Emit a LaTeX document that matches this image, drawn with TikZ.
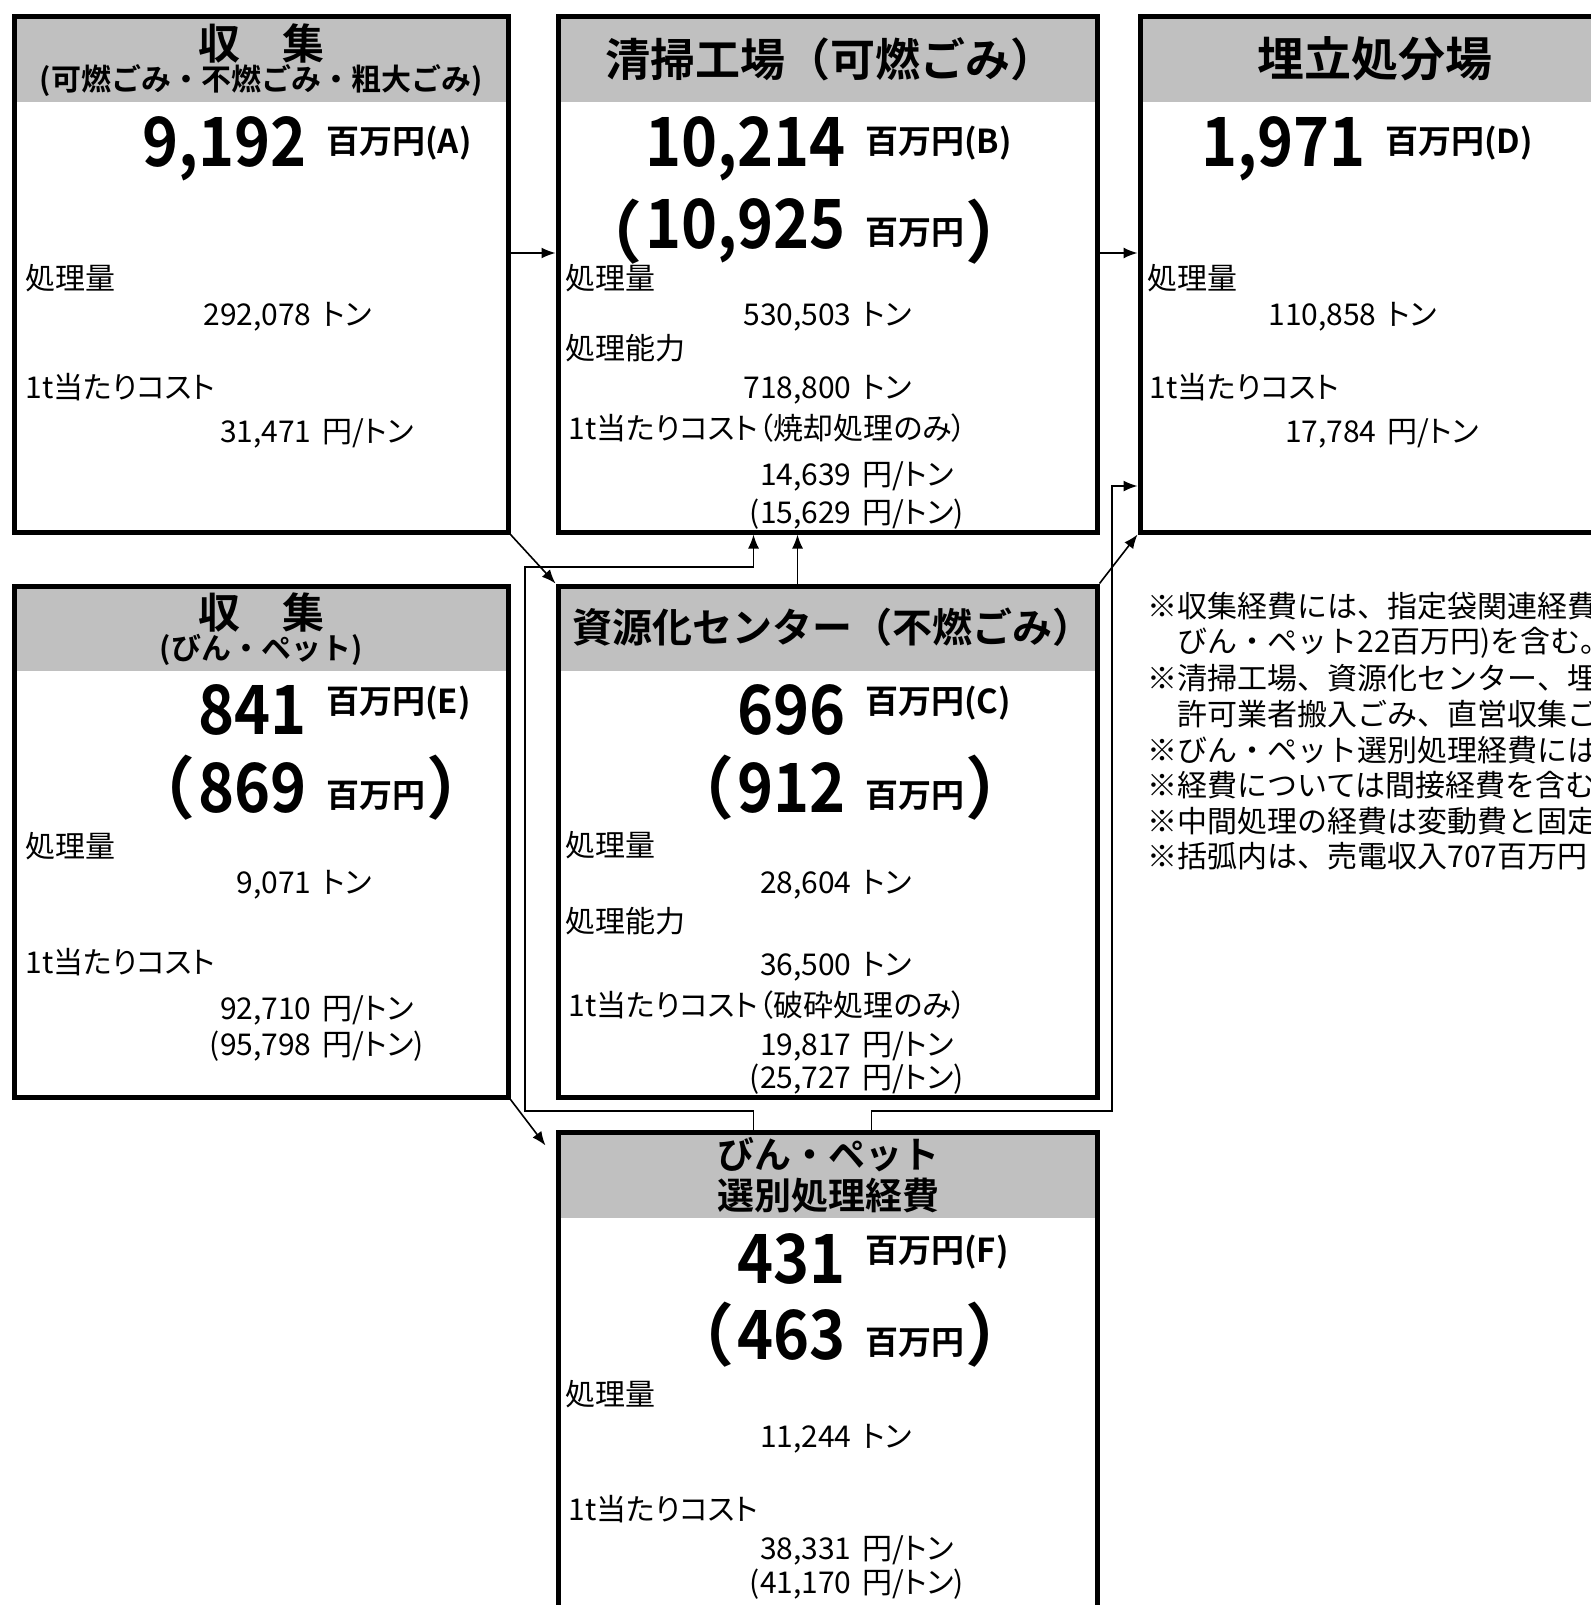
\documentclass[tikz,border=0pt]{standalone}
\usepackage{fontspec}
\setmainfont{Noto Sans CJK JP}[BoldFont={Noto Sans CJK JP Bold}]
\newfontfamily\numfont{Noto Sans CJK JP Bold}[FakeStretch=0.9]
\newfontfamily\bodyfont{Noto Sans CJK JP}[RawFeature=+palt]
\usetikzlibrary{arrows.meta,positioning,fit}
\definecolor{headgrey}{HTML}{C0C0C0}
\tikzset{
    panel/.style={draw=black,line width=2.5pt,inner sep=0pt},
    headbar/.style={fill=headgrey,inner sep=0pt},
    headtext/.style={font=\bfseries\fontsize{21}{24}\selectfont,inner sep=0pt},
    subhead/.style={font=\bfseries\fontsize{15}{18}\selectfont,inner sep=0pt},
    bignum/.style={font=\numfont\fontsize{34}{38}\selectfont,inner sep=0pt,anchor=base east},
    bigparen/.style={font=\bfseries\fontsize{34}{38}\selectfont,inner sep=0pt},
    bigunit/.style={font=\bfseries\fontsize{16.5}{19}\selectfont,inner sep=0pt},
    itemlabel/.style={font=\bodyfont\fontsize{15}{18}\selectfont,inner sep=0pt,anchor=base west},
    itemnum/.style={font=\fontsize{15}{18}\selectfont,inner sep=0pt,anchor=base east},
    itemunit/.style={font=\bodyfont\fontsize{15}{18}\selectfont,inner sep=0pt,anchor=base west},
    notetext/.style={font=\fontsize{15}{18}\selectfont,inner sep=0pt,anchor=base west},
    conn/.style={->,line width=0.8pt}
}
\begin{document}
\begin{tikzpicture}[x=0.5pt,y=-0.5pt,>={Latex[length=7pt,width=5.5pt]}]
  \useasboundingbox (0,0) rectangle (1590,1605);
  \node[headbar,fit={(14,17)(508,102)}] (hdA) {};
  \node[headbar,fit={(558,17)(1097,102)}] (hdB) {};
  \node[headbar,fit={(1140,17)(1640,102)}] (hdD) {};
  \node[headbar,fit={(14,586)(508,671)}] (hdE) {};
  \node[headbar,fit={(558,586)(1097,671)}] (hdC) {};
  \node[headbar,fit={(558,1132)(1097,1218)}] (hdF) {};
  \node[panel,fit={(14,17)(508,532)}] (boxA) {};
  \node[panel,fit={(558,17)(1097,532)}] (boxB) {};
  \node[panel,fit={(1140,17)(1640,532)}] (boxD) {};
  \node[panel,fit={(14,586)(508,1097)}] (boxE) {};
  \node[panel,fit={(558,586)(1097,1097)}] (boxC) {};
  \node[panel,fit={(558,1132)(1097,1680)}] (boxF) {};

  % collection: burnable, non-burnable, bulky
  \node[headtext] (hA1) at (261,43) {収　集};
  \node[subhead] (hA2) at (261,81) {(可燃ごみ・不燃ごみ・粗大ごみ)};
  \node[bignum] (nA) at (307,167) {9,192};
  \node[bigunit,right=9.5pt of nA,yshift=3pt] (uA) {百万円(A)};
  \node[itemlabel] (lA1) at (25,289) {処理量};
  \node[itemnum] (vA1) at (312,325) {292,078};
  \node[itemunit] (wA1) at (322,325) {トン};
  \node[itemlabel] (lA2) at (25,398) {1t当たりコスト};
  \node[itemnum] (vA2) at (312,442) {31,471};
  \node[itemunit] (wA2) at (322,442) {円/トン};

  % incineration plant
  \node[headtext,font=\bfseries\fontsize{22.5}{25}\selectfont] (hB) at (830,59) {清掃工場（可燃ごみ）};
  \node[bignum] (nB) at (846,167) {10,214};
  \node[bigunit,right=9.5pt of nB,yshift=3pt] (uB) {百万円(B)};
  \node[bignum] (nB2) at (846,249) {10,925};
  \node[bigparen,left=1pt of nB2] (pB1) {（};
  \node[bigunit,anchor=base west] (uB2) at ([xshift=9.5pt,yshift=2.5pt]nB2.base east) {百万円};
  \node[bigparen,anchor=west] (pB2) at (uB2.east |- nB2.east) {）};
  \node[itemlabel] (lB1) at (565,289) {処理量};
  \node[itemnum] (vB1) at (852,325) {530,503};
  \node[itemunit] (wB1) at (862,325) {トン};
  \node[itemlabel] (lB2) at (565,359) {処理能力};
  \node[itemnum] (vB2) at (852,398) {718,800};
  \node[itemunit] (wB2) at (862,398) {トン};
  \node[itemlabel] (lB3) at (568,439) {1t当たりコスト（焼却処理のみ）};
  \node[itemnum] (vB3) at (852,485) {14,639};
  \node[itemunit] (wB3) at (862,485) {円/トン};
  \node[itemnum] (vB4) at (852,523) {(15,629};
  \node[itemunit] (wB4) at (862,523) {円/トン)};

  % landfill
  \node[headtext,font=\bfseries\fontsize{23.5}{26}\selectfont] (hD) at (1375,59) {埋立処分場};
  \node[bignum] (nD) at (1366,167) {1,971};
  \node[bigunit,right=9.5pt of nD,yshift=3pt] (uD) {百万円(D)};
  \node[itemlabel] (lD1) at (1147,289) {処理量};
  \node[itemnum] (vD1) at (1377,325) {110,858};
  \node[itemunit] (wD1) at (1387,325) {トン};
  \node[itemlabel] (lD2) at (1149,398) {1t当たりコスト};
  \node[itemnum] (vD2) at (1377,442) {17,784};
  \node[itemunit] (wD2) at (1387,442) {円/トン};

  % collection: bottles and PET
  \node[headtext] (hE1) at (261,612) {収　集};
  \node[subhead] (hE2) at (261,650) {(びん・ペット)};
  \node[bignum] (nE) at (307,734) {841};
  \node[bigunit,right=9.5pt of nE,yshift=3pt] (uE) {百万円(E)};
  \node[bignum] (nE2) at (307,812) {869};
  \node[bigparen,left=1pt of nE2] (pE1) {（};
  \node[bigunit,anchor=base west] (uE2) at ([xshift=9.5pt,yshift=2.5pt]nE2.base east) {百万円};
  \node[bigparen,anchor=west] (pE2) at (uE2.east |- nE2.east) {）};
  \node[itemlabel] (lE1) at (25,857) {処理量};
  \node[itemnum] (vE1) at (312,893) {9,071};
  \node[itemunit] (wE1) at (322,893) {トン};
  \node[itemlabel] (lE2) at (25,973) {1t当たりコスト};
  \node[itemnum] (vE2) at (312,1019) {92,710};
  \node[itemunit] (wE2) at (322,1019) {円/トン};
  \node[itemnum] (vE3) at (312,1055) {(95,798};
  \node[itemunit] (wE3) at (322,1055) {円/トン)};

  % recycling centre
  \node[headtext,font=\bfseries\fontsize{20}{23}\selectfont] (hC) at (832,627) {資源化センター（不燃ごみ）};
  \node[bignum] (nC) at (846,734) {696};
  \node[bigunit,right=9.5pt of nC,yshift=3pt] (uC) {百万円(C)};
  \node[bignum] (nC2) at (846,812) {912};
  \node[bigparen,left=1pt of nC2] (pC1) {（};
  \node[bigunit,anchor=base west] (uC2) at ([xshift=9.5pt,yshift=2.5pt]nC2.base east) {百万円};
  \node[bigparen,anchor=west] (pC2) at (uC2.east |- nC2.east) {）};
  \node[itemlabel] (lC1) at (565,856) {処理量};
  \node[itemnum] (vC1) at (852,893) {28,604};
  \node[itemunit] (wC1) at (862,893) {トン};
  \node[itemlabel] (lC2) at (565,932) {処理能力};
  \node[itemnum] (vC2) at (852,975) {36,500};
  \node[itemunit] (wC2) at (862,975) {トン};
  \node[itemlabel] (lC3) at (568,1016) {1t当たりコスト（破砕処理のみ）};
  \node[itemnum] (vC3) at (852,1055) {19,817};
  \node[itemunit] (wC3) at (862,1055) {円/トン};
  \node[itemnum] (vC4) at (852,1088) {(25,727};
  \node[itemunit] (wC4) at (862,1088) {円/トン)};

  % bottle and PET sorting
  \node[headtext,font=\bfseries\fontsize{18.5}{21}\selectfont] (hF1) at (828,1155) {びん・ペット};
  \node[headtext,font=\bfseries\fontsize{18.5}{21}\selectfont] (hF2) at (828,1196) {選別処理経費};
  \node[bignum] (nF) at (846,1283) {431};
  \node[bigunit,right=9.5pt of nF,yshift=3pt] (uF) {百万円(F)};
  \node[bignum] (nF2) at (846,1359) {463};
  \node[bigparen,left=1pt of nF2] (pF1) {（};
  \node[bigunit,anchor=base west] (uF2) at ([xshift=9.5pt,yshift=2.5pt]nF2.base east) {百万円};
  \node[bigparen,anchor=west] (pF2) at (uF2.east |- nF2.east) {）};
  \node[itemlabel] (lF1) at (565,1405) {処理量};
  \node[itemnum] (vF1) at (852,1447) {11,244};
  \node[itemunit] (wF1) at (862,1447) {トン};
  \node[itemlabel] (lF2) at (568,1520) {1t当たりコスト};
  \node[itemnum] (vF2) at (852,1559) {38,331};
  \node[itemunit] (wF2) at (862,1559) {円/トン};
  \node[itemnum] (vF3) at (852,1593) {(41,170};
  \node[itemunit] (wF3) at (862,1593) {円/トン)};

  % notes
  \node[notetext] (m1) at (1147,617) {※収集経費には、指定袋関連経費};
  \node[notetext] (m2) at (1147,652) {　びん・ペット22百万円)を含む。};
  \node[notetext] (m3) at (1147,689) {※清掃工場、資源化センター、埋立};
  \node[notetext] (m4) at (1147,725) {　許可業者搬入ごみ、直営収集ごみ};
  \node[notetext] (m5) at (1147,761) {※びん・ペット選別処理経費には、};
  \node[notetext] (m6) at (1147,796) {※経費については間接経費を含む};
  \node[notetext] (m7) at (1147,832) {※中間処理の経費は変動費と固定};
  \node[notetext] (m8) at (1147,867) {※括弧内は、売電収入707百万円};

  % flows
  \coordinate (row) at (0,253);
  \coordinate (dIn) at (1112,486);
  \coordinate (busL) at (525,1111);
  \coordinate (busT) at (525,567);
  \coordinate (busR) at (1112,1111);
  \draw[conn] (boxA.east |- row) -- (boxB.west |- row);
  \draw[conn] (boxB.east |- row) -- (boxD.west |- row);
  \draw[conn] (boxA.south east) -- (boxC.north west);
  \draw[conn] (boxE.south east) -- ([shift={(-10,16)}]boxF.north west);
  \draw[conn] ([xshift=-15pt]boxC.north) -- ([xshift=-15pt]boxB.south);
  \draw[conn] (boxC.north east) -- (boxD.south west);
  \draw[conn] ([xshift=-37pt]boxF.north) |- (busL) -- (busT) -| ([xshift=-37pt]boxB.south);
  \draw[conn] ([xshift=22pt]boxF.north) |- (busR) -- (dIn) -- (boxD.west |- dIn);
\end{tikzpicture}
\end{document}
